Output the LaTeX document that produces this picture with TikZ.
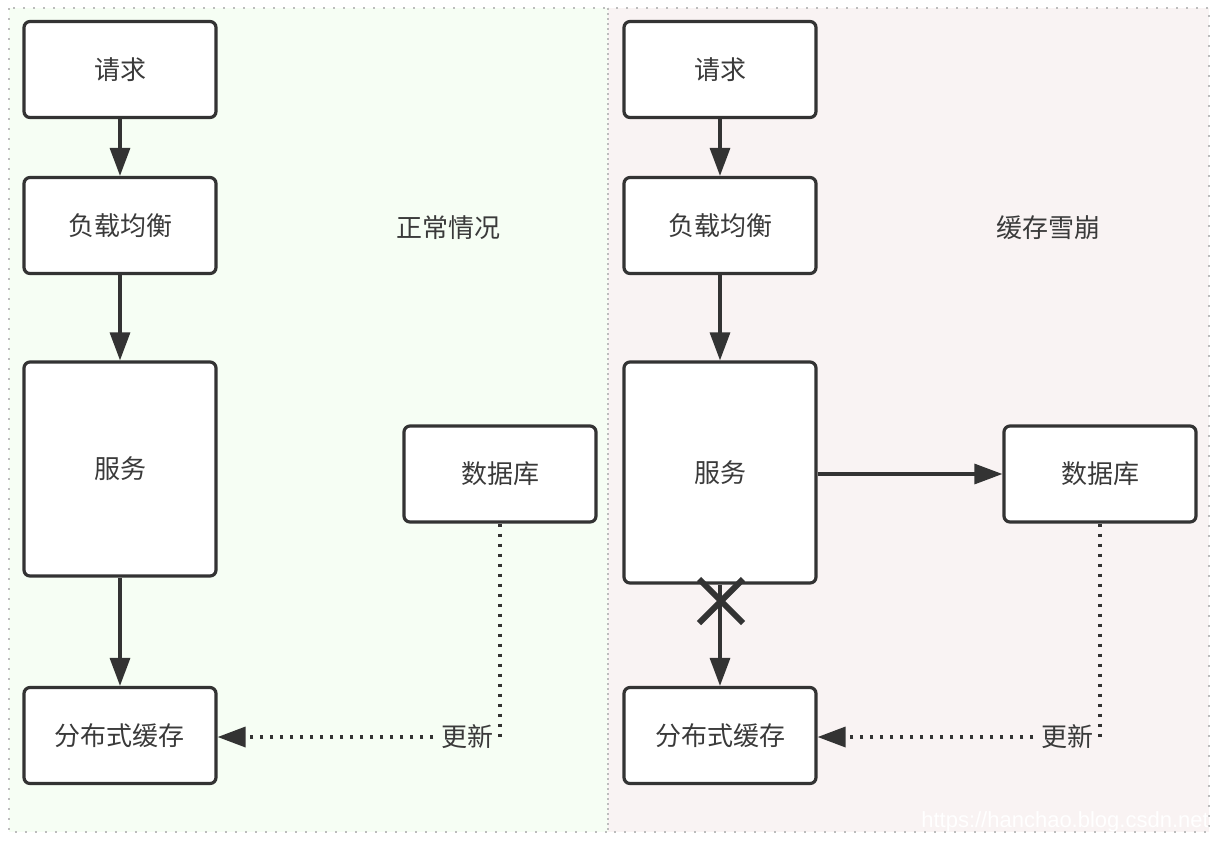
\documentclass[tikz,border=0pt]{standalone}
\usepackage{fontspec}
\setmainfont{Noto Sans CJK SC}
\setsansfont{Liberation Sans}
\usetikzlibrary{arrows.meta,calc}
\definecolor{leftbg}{HTML}{F6FEF4}
\definecolor{rightbg}{HTML}{F9F3F3}
\definecolor{ink}{HTML}{333333}
\definecolor{txt}{HTML}{3A3A3A}
\definecolor{border}{HTML}{BDBDBD}
\tikzset{
  box/.style={draw=ink, line width=2.4pt, rounded corners=4.5pt, fill=white,
    minimum width=144pt, minimum height=72pt, inner sep=0pt,
    font=\fontsize{19.5pt}{21pt}\selectfont, text=txt},
  tall/.style={box, minimum height=#1},
  conn/.style={draw=ink, line width=2.4pt, -{Triangle[length=21pt,width=15pt]}},
  upd/.style={draw=ink, line width=2.6pt, dash pattern=on 2.4pt off 5.1pt,
    -{Triangle[length=21pt,width=15pt]}},
  panel/.style={draw=border, line width=1.6pt, dash pattern=on 1.6pt off 5.9pt},
  title/.style={font=\fontsize{19.5pt}{21pt}\selectfont, text=txt},
  updlabel/.style={font=\fontsize{19.5pt}{21pt}\selectfont, text=txt, inner sep=1pt}
}
\begin{document}
\begin{tikzpicture}[x=0.75pt,y=-0.75pt]
\useasboundingbox (0,0) rectangle (1218,844);
\fill[white] (0,0) rectangle (1218,844);
% panels
\fill[leftbg] (9,8) rectangle (608,832);
\fill[rightbg] (608,8) rectangle (1209,832);
\draw[panel] (9,8) rectangle (608,832);
\draw[panel] (608,8) rectangle (1209,832);

% left panel
\node[box] (lreq) at (120,69.5) {请求};
\node[box] (llb) at (120,225.5) {负载均衡};
\node[tall=160.5pt] (lsvc) at (120,469) {服务};
\node[box] (lcache) at (120,735.5) {分布式缓存};
\node[box] (ldb) at (500,474) {数据库};
\node[title] (ltitle) at (448,228) {正常情况};
\coordinate (lcorner) at (500,737);
\draw[conn] (lreq) -- (llb);
\draw[conn] (llb) -- (lsvc);
\draw[conn] (lsvc) -- (lcache);
\draw[upd] (ldb.south) -- (lcorner) -- (lcache.east |- lcorner);
\node[updlabel, fill=leftbg] (lupd) at (467,737) {更新};

% right panel
\node[box] (rreq) at (720,69.5) {请求};
\node[box] (rlb) at (720,225.5) {负载均衡};
\node[tall=165.75pt] (rsvc) at (720,472.5) {服务};
\node[box] (rcache) at (720,735.5) {分布式缓存};
\node[box] (rdb) at (1100,474) {数据库};
\node[title] (rtitle) at (1048,228) {缓存雪崩};
\coordinate (rcorner) at (1100,737);
\draw[conn] (rreq) -- (rlb);
\draw[conn] (rlb) -- (rsvc);
\draw[conn] (rsvc) -- (rcache);
\draw[conn] (rsvc.east |- rdb) -- (rdb);
\draw[upd] (rdb.south) -- (rcorner) -- (rcache.east |- rcorner);
\node[updlabel, fill=rightbg] (rupd) at (1067,737) {更新};
% cross mark
\coordinate (xc) at (721,601);
\draw[ink, line width=4.5pt] ($(xc)+(-22,-22)$) -- ($(xc)+(22,22)$);
\draw[ink, line width=4.5pt] ($(xc)+(-22,22)$) -- ($(xc)+(22,-22)$);

% watermark
\node[font=\sffamily\fontsize{16.5pt}{18pt}\selectfont, text=white, anchor=east, inner sep=0pt]
  (wm) at (1209,822) {https://hanchao.blog.csdn.net};
\end{tikzpicture}
\end{document}
